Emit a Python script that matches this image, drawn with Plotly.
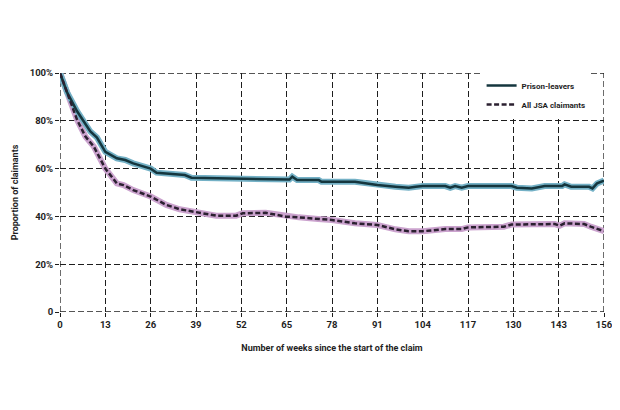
import plotly.graph_objects as go

# values (share of claimants still claiming, %)
weeks_prison = [0, 2, 4.9, 8.7, 10.6, 13, 16.3, 18.7, 21, 26, 27.7, 33.4, 35.8, 37.7,
                51.4, 64.8, 65.8, 66.6, 68, 74.2, 75, 84.6, 91, 96.2, 100, 102, 104,
                110.5, 111.9, 113.3, 115.2, 117, 129.5, 131, 135.3, 139, 144, 144.7,
                146.6, 151.7, 152.7, 154, 156]
prison_leavers = [100, 92, 84, 75.5, 73, 67, 64.3, 63.6, 62.2, 60, 58.3, 57.8, 57.3, 56.2,
                  55.9, 55.5, 55.4, 56.6, 55.2, 55.2, 54.5, 54.5, 53.1, 52.4, 52, 52.4, 52.7,
                  52.7, 52, 52.7, 52, 52.7, 52.7, 52, 51.7, 52.7, 52.7, 53.4,
                  52.4, 52.4, 51.7, 53.8, 55]

weeks_jsa = [0, 2.1, 4.9, 7.3, 9.7, 13, 16.3, 18.2, 21, 26, 30.5, 34.3, 39, 44.8, 50.5,
             52.4, 59, 62, 64.8, 68.5, 74, 78, 84.6, 91, 96.2, 100, 104, 110.5, 115.2,
             117, 127.3, 129.5, 141.9, 143.3, 144.7, 150.3, 152.2, 156]
all_jsa = [100, 91.6, 80.4, 73.4, 69.2, 60, 53.8, 53.1, 51, 48.3, 44.8, 43, 41.7, 40.3, 40.3,
           41.3, 41.5, 40.8, 39.9, 39.6, 38.9, 38.5, 37.1, 36.4, 34.6, 33.8, 33.8, 34.7, 34.7,
           35.4, 35.7, 36.6, 36.8, 36.1, 37.1, 36.8, 35.7, 33.8]

x_ticks = list(range(0, 157, 13))
y_ticks = [0, 20, 40, 60, 80, 100]
y_labels = ['0', '20%', '40%', '60%', '80%', '100%']

FONT = 'Roboto'
INK = '#1e1e1e'
DASH = '6px,3px'

fig = go.Figure()

# soft halo under each line
fig.add_trace(go.Scatter(x=weeks_jsa, y=all_jsa, mode='lines', showlegend=False,
                         hoverinfo='skip', line=dict(color='#cba3ce', width=6)))
fig.add_trace(go.Scatter(x=weeks_prison, y=prison_leavers, mode='lines', showlegend=False,
                         hoverinfo='skip', line=dict(color='#74b1c6', width=6)))

fig.add_trace(go.Scatter(x=weeks_prison, y=prison_leavers, mode='lines', name='Prison-leavers',
                         line=dict(color='#15363e', width=2.5)))
fig.add_trace(go.Scatter(x=weeks_jsa, y=all_jsa, mode='lines', name='All JSA claimants',
                         line=dict(color='#2b2030', width=2.5, dash='5px,2.5px')))

# the frame of the grid is dashed too, plotly leaves edge gridlines out
for xv in (0, 156):
    fig.add_shape(type='line', xref='x', yref='y', x0=xv, x1=xv, y0=0, y1=100,
                  layer='below', line=dict(color=INK, width=1.3, dash=DASH))
for yv in (0, 100):
    fig.add_shape(type='line', xref='x', yref='y', x0=0, x1=156, y0=yv, y1=yv,
                  layer='below', line=dict(color=INK, width=1.3, dash=DASH))

axis_common = dict(
    showgrid=True, gridcolor=INK, gridwidth=1.3, griddash=DASH,
    zeroline=False, showline=False, automargin=False,
    ticks='outside', ticklen=4, tickwidth=1.3, tickcolor=INK,
    ticklabeloverflow='allow',
    tickfont=dict(family=FONT, size=9.5, color=INK, weight='bold'),
)

# page body keeps an 8px margin; sized so no scrollbars appear
fig.update_layout(
    width=604, height=394,
    margin=dict(l=52, r=8, t=65, b=90),
    paper_bgcolor='white', plot_bgcolor='white',
    font=dict(family=FONT, color=INK),
    xaxis=dict(
        axis_common, range=[0, 156], tickvals=x_ticks,
        title=dict(text='Number of weeks since the start of the claim', standoff=15,
                   font=dict(family=FONT, size=9, color=INK, weight='bold')),
    ),
    yaxis=dict(
        axis_common, range=[0, 100], tickvals=y_ticks, ticktext=y_labels,
        title=dict(text='Proportion of claimants', standoff=9,
                   font=dict(family=FONT, size=9, color=INK, weight='bold')),
    ),
    legend=dict(
        x=0.775, y=1.008, xanchor='left', yanchor='top',
        bgcolor='white', borderwidth=0,
        font=dict(family=FONT, size=8, color=INK, weight='bold'),
        itemwidth=30,
    ),
    showlegend=True,
)

fig.write_html("out.html")
